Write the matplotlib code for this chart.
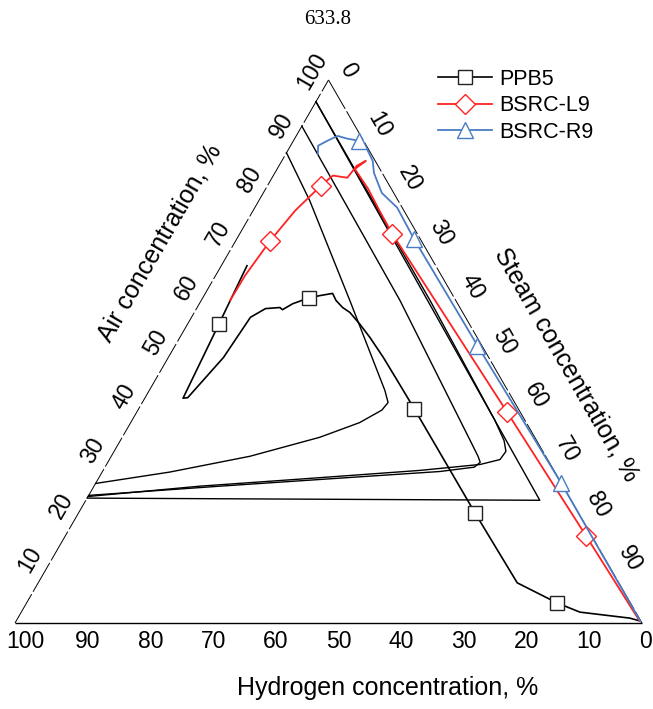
import numpy as np
import matplotlib
matplotlib.use("Agg")
import matplotlib.pyplot as plt

plt.rcParams['font.family'] = ['Liberation Sans', 'DejaVu Sans']
plt.rcParams['lines.scale_dashes'] = False

# Gas compositions in % (hydrogen = 100 - air - steam)
ppb5_air = [65.8, 55.0, 41.4, 41.5, 48.9, 56.3, 57.9, 58.1, 57.7, 58.8, 59.9, 60.3, 60.7,
            59.4, 58.1, 57.2, 55.1, 52.6, 48.9, 44.7, 39.5, 20.2, 7.4, 3.7, 2.0, 0.9, 0.4]
ppb5_steam = [4.1, 5.0, 6.1, 6.8, 8.8, 9.4, 11.0, 13.2, 13.8, 14.9, 17.0, 18.5, 20.3,
              21.5, 23.2, 24.8, 27.4, 30.3, 34.3, 38.6, 43.9, 63.3, 76.4, 84.6, 89.1, 97.6, 99.4]
ppb5_marks = [1, 10, 20, 21, 23]

l9_air = [59.4, 64.0, 70.4, 75.9, 80.5, 82.4, 82.0, 84.2, 85.1, 83.6, 80.0, 75.9,
          71.7, 38.8, 16.0, 0.4]
l9_steam = [4.6, 4.7, 5.5, 6.7, 8.5, 9.5, 12.0, 12.4, 13.4, 12.4, 16.3, 20.2,
            24.3, 59.1, 83.1, 99.4]
l9_marks = [2, 4, 12, 13, 14]

r9_air = [86.4, 87.9, 88.8, 89.7, 89.2, 88.8, 87.5, 85.1, 82.9, 79.2, 76.5, 70.8,
          51.1, 25.7, 0.3]
r9_steam = [5.1, 4.4, 5.4, 6.6, 8.4, 10.5, 12.3, 14.5, 15.8, 18.9, 22.7, 28.2,
            48.2, 74.3, 99.6]
r9_marks = [5, 11, 12, 13]

# Combustion boundary curves
flam_air = [96.0, 22.6, 23.0]
flam_steam = [0.0, 72.4, 0.0]

lim_a_air = [96.0, 59.4, 37.3, 33.6, 31.6, 30.1, 29.2, 28.1, 26.5, 25.2, 23.3]
lim_a_steam = [0.0, 36.5, 57.9, 61.2, 62.5, 62.3, 59.6, 50.5, 32.2, 16.9, 0.0]

lim_b_air = [91.5, 59.4, 33.6, 30.7, 29.6, 28.7, 27.9, 26.8, 25.2, 23.5]
lim_b_steam = [0.0, 31.7, 55.8, 58.5, 59.4, 58.9, 53.8, 40.0, 20.1, 0.0]

lim_c_air = [86.6, 77.8, 59.4, 42.8, 40.6, 39.2, 36.9, 34.2, 30.7, 27.8, 25.7]
lim_c_steam = [0.0, 8.1, 23.7, 37.6, 39.2, 38.9, 36.5, 31.5, 22.1, 10.8, 0.0]

hydrogen_ticks = [100, 90, 80, 70, 60, 50, 40, 30, 20, 10, 0]
air_ticks = [10, 20, 30, 40, 50, 60, 70, 80, 90, 100]
steam_ticks = [0, 10, 20, 30, 40, 50, 60, 70, 80, 90]

S3 = np.sqrt(3) / 2
PX = 6.27  # pixels per data unit


def to_xy(air, steam):
    air = np.asarray(air, float)
    steam = np.asarray(steam, float)
    return steam + air / 2.0, air * S3


fig = plt.figure(figsize=(6.53, 7.09), dpi=100)
ax = fig.add_axes([0, 0, 1, 1])
ax.set_xlim(-15 / PX, (653 - 15) / PX)
ax.set_ylim(-(709 - 623) / PX, 623 / PX)
ax.axis('off')

# triangle frame
ax.plot([0, 100], [0, 0], color='black', lw=1.0, solid_capstyle='butt')
ax.plot([0, 50], [0, 100 * S3], color='black', lw=0.7, dashes=(24, 2))
ax.plot([50, 100], [100 * S3, 0], color='black', lw=0.7, dashes=(24, 2))

# boundary curves
for ca, cs in [(flam_air, flam_steam), (lim_a_air, lim_a_steam),
               (lim_b_air, lim_b_steam), (lim_c_air, lim_c_steam)]:
    x, y = to_xy(ca, cs)
    ax.plot(x, y, color='black', lw=1.0)

x, y = to_xy(ppb5_air, ppb5_steam)
ax.plot(x, y, color='black', lw=1.2, marker='s', markevery=ppb5_marks, ms=10,
        mfc='white', mec='#222222', mew=1.0, label='PPB5', zorder=4)
x, y = to_xy(l9_air, l9_steam)
ax.plot(x, y, color='#ff2222', lw=1.3, marker='D', markevery=l9_marks, ms=10,
        mfc='white', mec='#ff2222', mew=1.0, label='BSRC-L9', zorder=5)
x, y = to_xy(r9_air, r9_steam)
ax.plot(x, y, color='#4a7cc4', lw=1.3, marker='^', markevery=r9_marks, ms=12,
        mfc='white', mec='#4a7cc4', mew=1.0, label='BSRC-R9', zorder=6)

# tick labels
fs_tick = 16.5
for v in hydrogen_ticks:
    hx = 100 - v
    xoff = 10 / PX if v > 0 else 4 / PX
    ax.text(hx + xoff, -18 / PX, str(v), ha='center', va='center', fontsize=fs_tick)
for v in air_ticks:
    lx, ly = v / 2.0, v * S3
    ax.text(lx - 16 / PX, ly + 9 / PX, str(v), ha='center', va='center',
            rotation=60, fontsize=fs_tick)
for v in steam_ticks:
    rx, ry = 50 + v / 2.0, (100 - v) * S3
    ax.text(rx + 19 / PX, ry + 10 / PX, str(v), ha='center', va='center',
            rotation=-60, fontsize=fs_tick)

fs_lab = 18
ax.text((388 - 15) / PX, (623 - 688) / PX, 'Hydrogen concentration, %',
        ha='center', va='center', fontsize=fs_lab)
ax.text((160 - 15) / PX, (623 - 243) / PX, 'Air concentration, %',
        ha='center', va='center', rotation=60, fontsize=fs_lab)
ax.text((566 - 15) / PX, (623 - 365) / PX, 'Steam concentration, %',
        ha='center', va='center', rotation=-60, fontsize=fs_lab)

fig.text(328 / 653, 1 - 19 / 709, '633.8', ha='center', va='center',
         fontsize=15, family='Liberation Serif')

ax.legend(loc='upper left', bbox_to_anchor=(438 / 653, 1 - 69 / 709),
          bbox_transform=fig.transFigure, frameon=False, fontsize=15.5,
          handlelength=2.5, handletextpad=0.35, labelspacing=0.25,
          borderpad=0, borderaxespad=0)

fig.savefig('out.png', dpi=100)
